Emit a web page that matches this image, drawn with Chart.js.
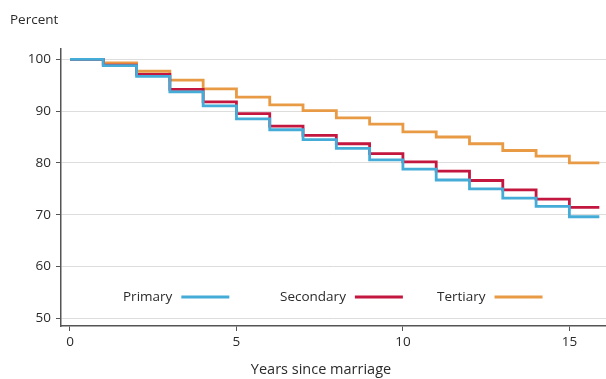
<!DOCTYPE html>
<html>
<head>
<meta charset="utf-8">
<script src="https://cdn.jsdelivr.net/npm/chart.js@4/dist/chart.umd.min.js"></script>
<style>
html,body{margin:0;padding:0;background:#fff;}
#wrap{width:606px;height:379px;position:relative;}
</style>
</head>
<body>
<div id="wrap"><canvas id="c" width="606" height="379"></canvas></div>
<script>
// Years since marriage (step starts), last entry = end of observed line
const years = [0, 1, 2, 3, 4, 5, 6, 7, 8, 9, 10, 11, 12, 13, 14, 15, 15.9];
const seriesNames = ["Primary", "Secondary", "Tertiary"];
const primary   = [100, 98.8, 96.7, 93.7, 91.0, 88.5, 86.4, 84.5, 82.8, 80.6, 78.8, 76.7, 75.0, 73.2, 71.6, 69.6, 69.6];
const secondary = [100, 98.9, 97.1, 94.2, 91.8, 89.5, 87.1, 85.3, 83.7, 81.8, 80.2, 78.4, 76.6, 74.8, 73.0, 71.4, 71.4];
const tertiary  = [100, 99.3, 97.7, 96.0, 94.3, 92.7, 91.2, 90.1, 88.7, 87.5, 86.0, 85.0, 83.7, 82.4, 81.3, 80.0, 80.0];
const yTicks = [50, 60, 70, 80, 90, 100];
const xTicks = [0, 5, 10, 15];
const xTitle = "Years since marriage";
const yTitle = "Percent";
const colors = ["#45acd8", "#c4173f", "#e89a45"];

const FONT = "'Open Sans', 'Noto Sans', sans-serif";
const toPts = arr => years.map((x, i) => ({x: x, y: arr[i]}));

const legendPlugin = {
  id: 'customLegend',
  afterDraw(chart) {
    const ctx = chart.ctx;
    ctx.save();
    ctx.font = "13.5px " + FONT;
    ctx.textBaseline = 'middle';
    const starts = [123, 280, 437];
    const y = 297;
    chart.data.datasets.forEach((ds, i) => {
      const x = starts[i];
      ctx.fillStyle = '#2b2b2b';
      ctx.textAlign = 'left';
      ctx.fillText(ds.label, x, y);
      const w = ctx.measureText(ds.label).width;
      ctx.strokeStyle = ds.borderColor;
      ctx.lineWidth = 3;
      ctx.beginPath();
      ctx.moveTo(x + w + 9, y);
      ctx.lineTo(x + w + 57, y);
      ctx.stroke();
    });
    ctx.fillStyle = '#2b2b2b';
    ctx.fillText(yTitle, 10, 20);
    ctx.font = "14.5px " + FONT;
    ctx.textAlign = 'center';
    ctx.fillText(xTitle, 321, 370);
    ctx.restore();
  }
};

new Chart(document.getElementById('c'), {
  type: 'line',
  data: {
    datasets: [
      {label: seriesNames[0], data: toPts(primary), borderColor: colors[0]},
      {label: seriesNames[1], data: toPts(secondary), borderColor: colors[1]},
      {label: seriesNames[2], data: toPts(tertiary), borderColor: colors[2]}
    ].map(d => Object.assign(d, {stepped: 'before', borderWidth: 2.8, pointRadius: 0, fill: false}))
  },
  options: {
    responsive: false,
    animation: false,
    layout: {padding: {left: 0, right: 0, top: 49, bottom: 0}},
    plugins: {legend: {display: false}, tooltip: {enabled: false}},
    scales: {
      x: {
        type: 'linear',
        min: -0.27,
        max: 16.1,
        afterBuildTicks: s => { s.ticks = xTicks.map(v => ({value: v})); },
        afterFit: s => { s.height = 53; },
        grid: {display: true, drawOnChartArea: false, tickLength: 5, tickColor: '#555', color: '#555'},
        border: {display: true, color: '#555', width: 1.5},
        ticks: {font: {size: 13.5, family: FONT}, color: '#2b2b2b', padding: 3, maxRotation: 0}
      },
      y: {
        min: 48.5,
        max: 102,
        afterBuildTicks: s => { s.ticks = yTicks.map(v => ({value: v})); },
        afterFit: s => { s.width = 61; },
        grid: {color: '#dddddd', lineWidth: 1, tickLength: 5, tickColor: '#555'},
        border: {display: true, color: '#555', width: 1.5},
        ticks: {font: {size: 13.5, family: FONT}, color: '#2b2b2b', padding: 5}
      }
    }
  },
  plugins: [legendPlugin]
});
</script>
</body>
</html>
